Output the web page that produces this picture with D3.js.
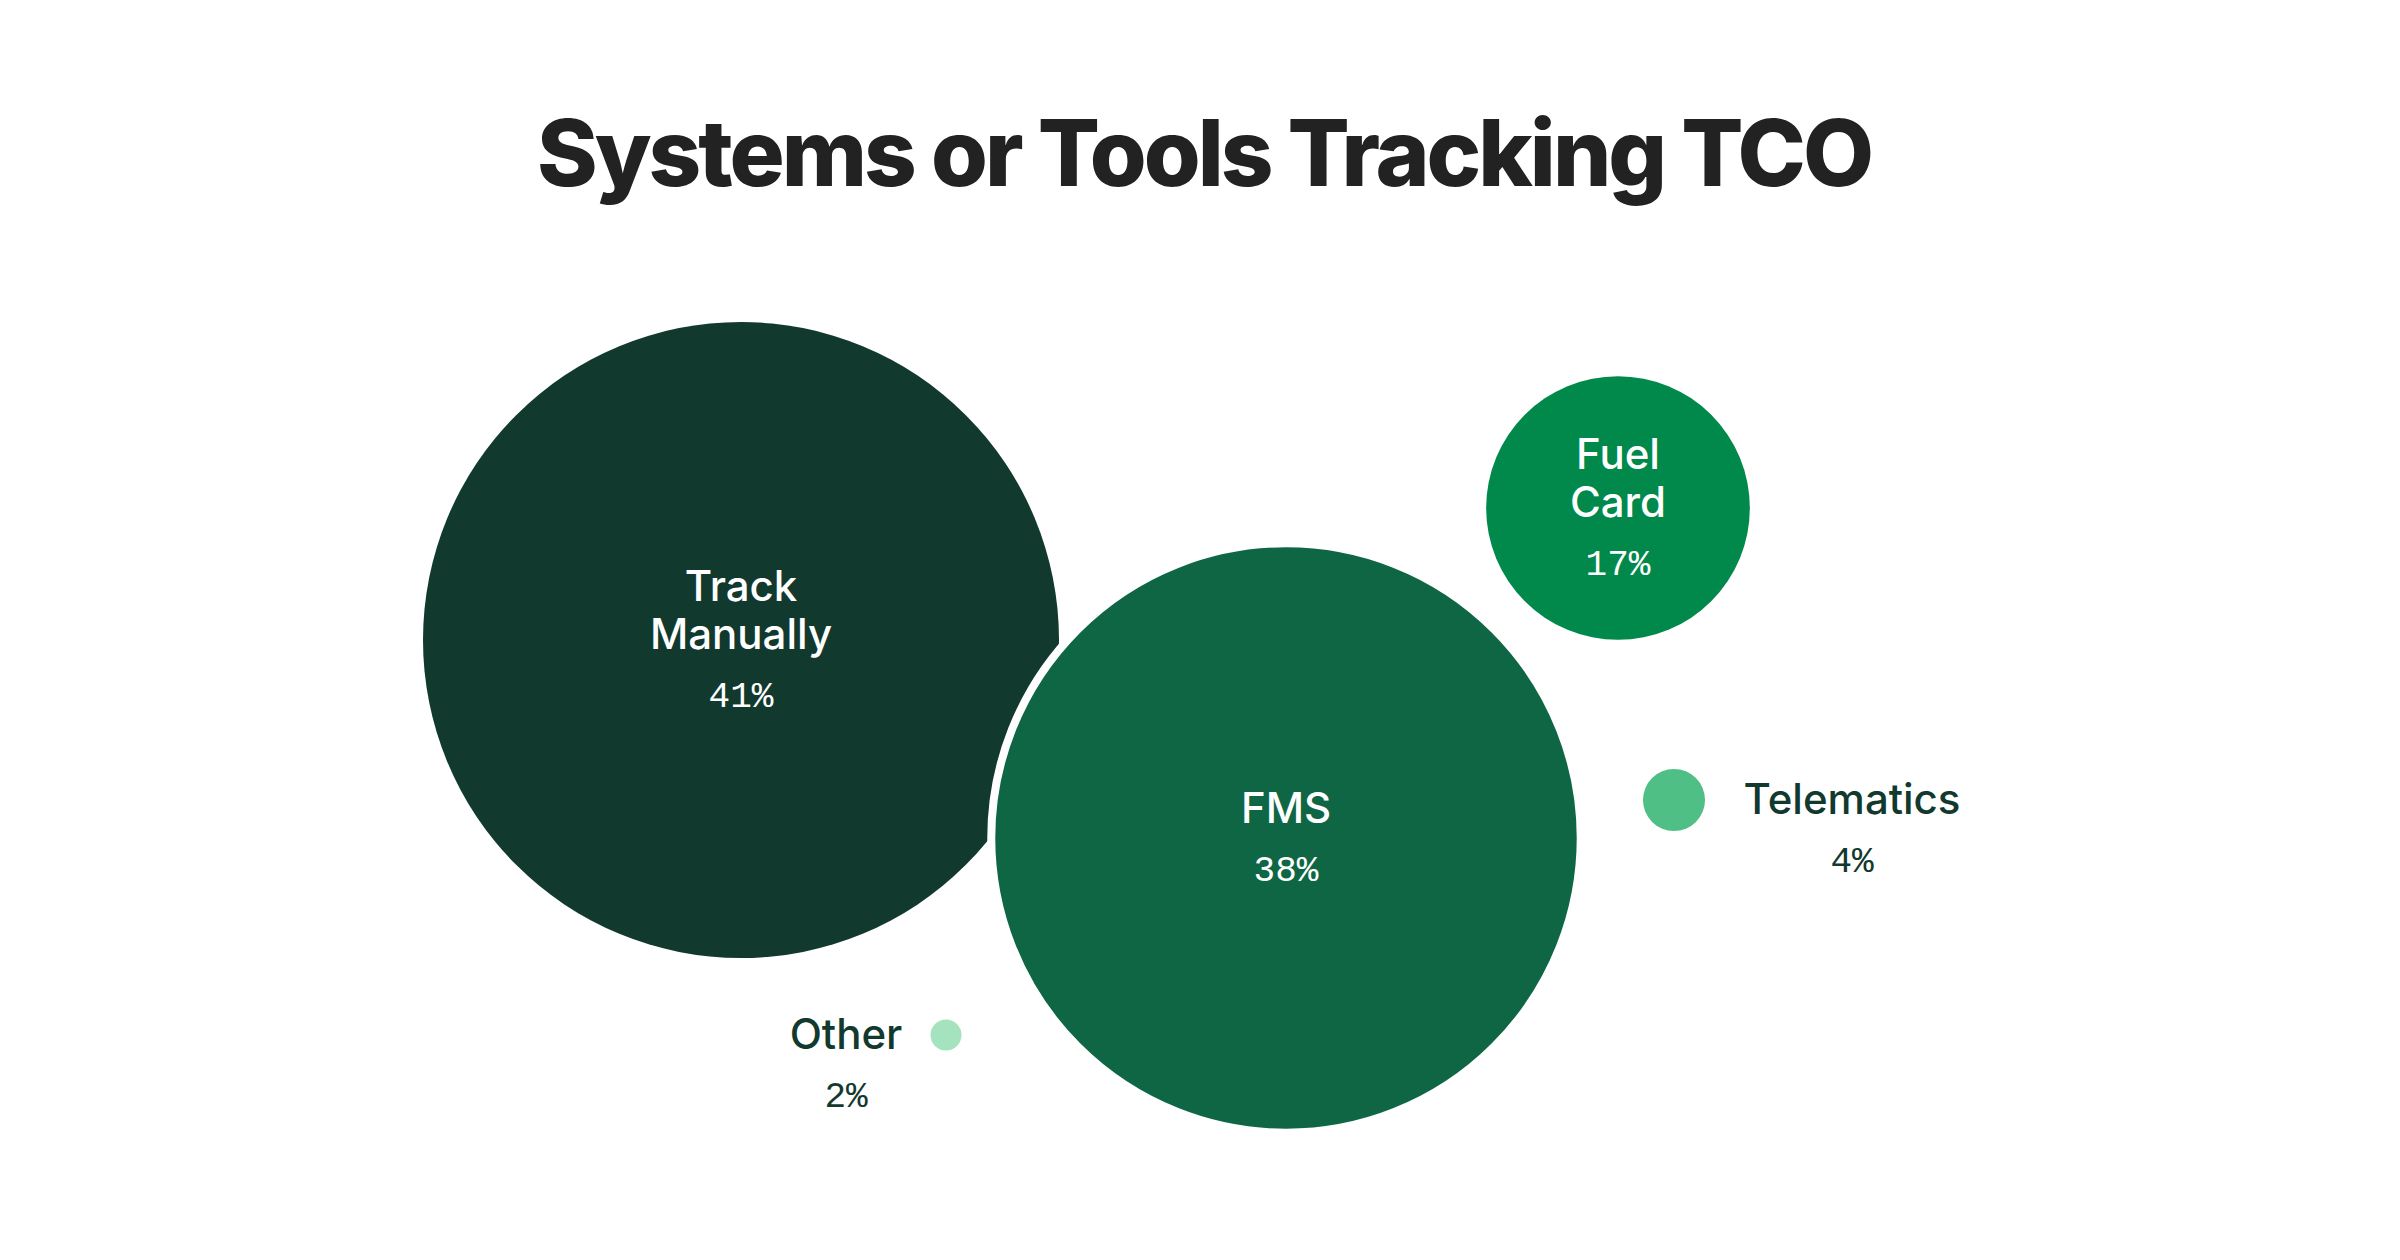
<!DOCTYPE html>
<html><head><meta charset="utf-8">
<script src="https://cdn.jsdelivr.net/npm/d3@7"></script>
<style>
body{margin:0;background:#fff;}
svg{display:block;}
</style></head>
<body>
<svg id="chart" width="2400" height="1260"></svg>
<script>
// data
const categories = ["Track Manually", "FMS", "Fuel Card", "Telematics", "Other"];
const values = [41, 38, 17, 4, 2];
const colors = ["#12392e", "#0e6645", "#00894b", "#4fbf85", "#a5e3be"];
// layout positions (bubble centres) and label placement
const cx = [741, 1286, 1618, 1674, 946];
const cy = [640, 838, 508, 800, 1035];
const labelMode = ["inside", "inside", "inside", "right", "left"];

const svg = d3.select('#chart');
const r = d3.scaleLinear().domain([0, 41]).range([0, 318]);

svg.append('text')
  .attr('x', 1204).attr('y', 186)
  .attr('text-anchor', 'middle')
  .attr('font-family', 'Inter, sans-serif')
  .attr('font-weight', 800)
  .attr('font-size', 92)
  .attr('letter-spacing', -3)
  .attr('fill', '#222')
  .text('Systems or Tools Tracking TCO');

const data = categories.map((c, i) => ({name: c, value: values[i], color: colors[i], x: cx[i], y: cy[i], mode: labelMode[i]}));

svg.selectAll('circle').data(data).enter().append('circle')
  .attr('cx', d => d.x).attr('cy', d => d.y)
  .attr('r', d => r(d.value))
  .attr('fill', d => d.color)
  .attr('stroke', d => d.name === 'FMS' ? '#fff' : 'none')
  .attr('stroke-width', 8);

data.forEach(d => {
  const g = svg.append('g');
  const words = d.name === 'Telematics' || d.name === 'Other' || d.name === 'FMS' ? [d.name] : d.name.split(' ');
  let x = d.x, y0, fill = '#fff';
  if (d.mode === 'right') { x = d.x + 178; fill = '#12392e'; }
  if (d.mode === 'left') { x = d.x - 100; fill = '#12392e'; }
  const lh = 48;
  const pctGap = 58;
  const blockH = (words.length - 1) * lh + pctGap;
  y0 = d.mode === 'inside' ? d.y - blockH / 2 + 14 : d.y + 14;
  words.forEach((w, i) => {
    g.append('text').attr('x', x).attr('y', y0 + i * lh)
      .attr('text-anchor', 'middle')
      .attr('font-family', 'Inter, sans-serif').attr('font-weight', 500)
      .attr('font-size', 42).attr('fill', fill).text(w);
  });
  g.append('text').attr('x', x).attr('y', y0 + (words.length - 1) * lh + pctGap)
    .attr('text-anchor', 'middle')
    .attr('font-family', '"Liberation Mono", monospace')
    .attr('font-size', 36).attr('fill', fill).text(d.value + '%');
});
</script>
</body></html>
